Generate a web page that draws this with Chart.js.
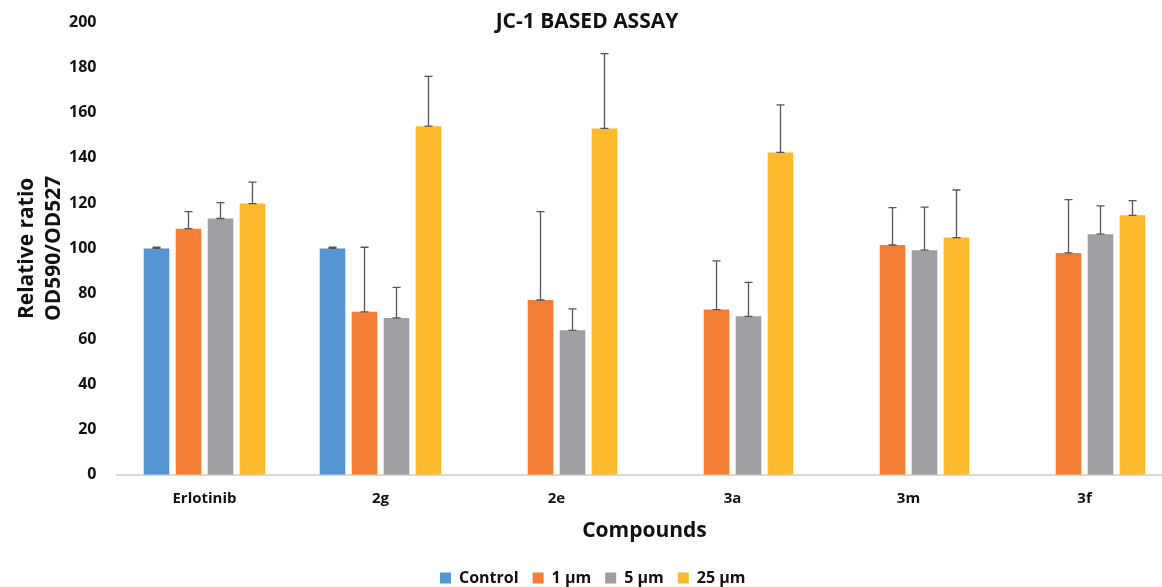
<!DOCTYPE html>
<html>
<head>
<meta charset="utf-8">
<script src="https://cdn.jsdelivr.net/npm/chart.js@4.4.1/dist/chart.umd.min.js"></script>
<style>
html,body{margin:0;padding:0;background:#fff;overflow:hidden;width:1162px;height:587px;}
#c{display:block;}
</style>
</head>
<body>
<canvas id="c" width="1180" height="587"></canvas>
<script>
const categories = ["Erlotinib", "2g", "2e", "3a", "3m", "3f"];
const seriesNames = ["Control", "1 \u00b5m", "5 \u00b5m", "25 \u00b5m"];
const controlVals = [100, 100, null, null, null, null];
const um1Vals = [108.7, 72, 77.2, 73, 101.5, 98];
const um5Vals = [113.2, 69.3, 63.8, 70, 99.2, 106.3];
const um25Vals = [119.8, 154, 153, 142.4, 104.8, 114.6];
const controlErr = [0.5, 0.5, null, null, null, null];
const um1Err = [7.5, 28.5, 39, 21.5, 16.5, 23.5];
const um5Err = [7, 13.5, 9.5, 15, 19, 12.5];
const um25Err = [9.5, 22, 33, 21, 21, 6.5];
const yTicks = [0, 20, 40, 60, 80, 100, 120, 140, 160, 180, 200];

const colors = ["#5596D2", "#F47E36", "#9D9FA2", "#FDBA2C"];
const FONT = "'Open Sans', 'DejaVu Sans', sans-serif";

const errorBars = {
  id: 'errorBars',
  afterDatasetsDraw(chart) {
    const ctx = chart.ctx;
    const ys = chart.scales.y;
    ctx.save();
    ctx.strokeStyle = '#555555';
    ctx.lineWidth = 1.3;
    chart.data.datasets.forEach((ds, i) => {
      const meta = chart.getDatasetMeta(i);
      meta.data.forEach((el, j) => {
        const v = ds.data[j];
        const e = ds.errors[j];
        if (v == null || e == null) return;
        const x = el.x;
        const y0 = ys.getPixelForValue(v);
        const y1 = ys.getPixelForValue(v + e);
        ctx.beginPath();
        ctx.moveTo(x, y0); ctx.lineTo(x, y1);
        ctx.moveTo(x - 4, y0); ctx.lineTo(x + 4, y0);
        ctx.moveTo(x - 4, y1); ctx.lineTo(x + 4, y1);
        ctx.stroke();
      });
    });
    ctx.restore();
  }
};

const titlePlugin = {
  id: 'titleText',
  afterDraw(chart) {
    const ctx = chart.ctx;
    ctx.save();
    ctx.font = "bold 21px " + FONT;
    ctx.fillStyle = '#111';
    ctx.textAlign = 'center';
    ctx.textBaseline = 'middle';
    ctx.fillText("JC-1 BASED ASSAY", 587, 22);
    ctx.restore();
  }
};

const allVals = [controlVals, um1Vals, um5Vals, um25Vals];
const allErr = [controlErr, um1Err, um5Err, um25Err];

new Chart(document.getElementById('c'), {
  type: 'bar',
  data: {
    labels: categories,
    datasets: seriesNames.map((n, i) => ({
      label: n,
      data: allVals[i],
      errors: allErr[i],
      backgroundColor: colors[i],
      borderWidth: 0,
      categoryPercentage: 0.727,
      barPercentage: 0.8
    }))
  },
  options: {
    responsive: false,
    animation: false,
    layout: { padding: { top: 22, right: 7.5, left: 13, bottom: -9 } },
    plugins: {
      legend: {
        position: 'bottom',
        labels: {
          boxWidth: 11, boxHeight: 11, padding: 14,
          color: '#111',
          font: { family: FONT, size: 16, weight: 'bold' }
        }
      },
      tooltip: { enabled: false },
      title: { display: false }
    },
    scales: {
      x: {
        grid: { display: false },
        border: { color: '#d9d9d9', width: 2 },
        ticks: { color: '#111', padding: 8, font: { family: FONT, size: 15, weight: 'bold', lineHeight: 1 } },
        title: { display: true, text: 'Compounds', color: '#111', padding: { top: 5, bottom: 12 },
                 font: { family: FONT, size: 21, weight: 'bold' } }
      },
      y: {
        min: 0, max: 200,
        afterBuildTicks(scale) { scale.ticks = yTicks.map(v => ({ value: v })); },
        afterFit(scale) { scale.width = 103.5; },
        grid: { display: false },
        border: { display: false },
        ticks: { color: '#111', padding: 12, font: { family: FONT, size: 16, weight: 'bold' } },
        title: { display: true, text: ['Relative ratio', 'OD590/OD527'], color: '#111',
                 padding: { top: 0, bottom: 0 },
                 font: { family: FONT, size: 21, weight: 'bold', lineHeight: 1.3 } }
      }
    }
  },
  plugins: [errorBars, titlePlugin]
});
</script>
</body>
</html>
